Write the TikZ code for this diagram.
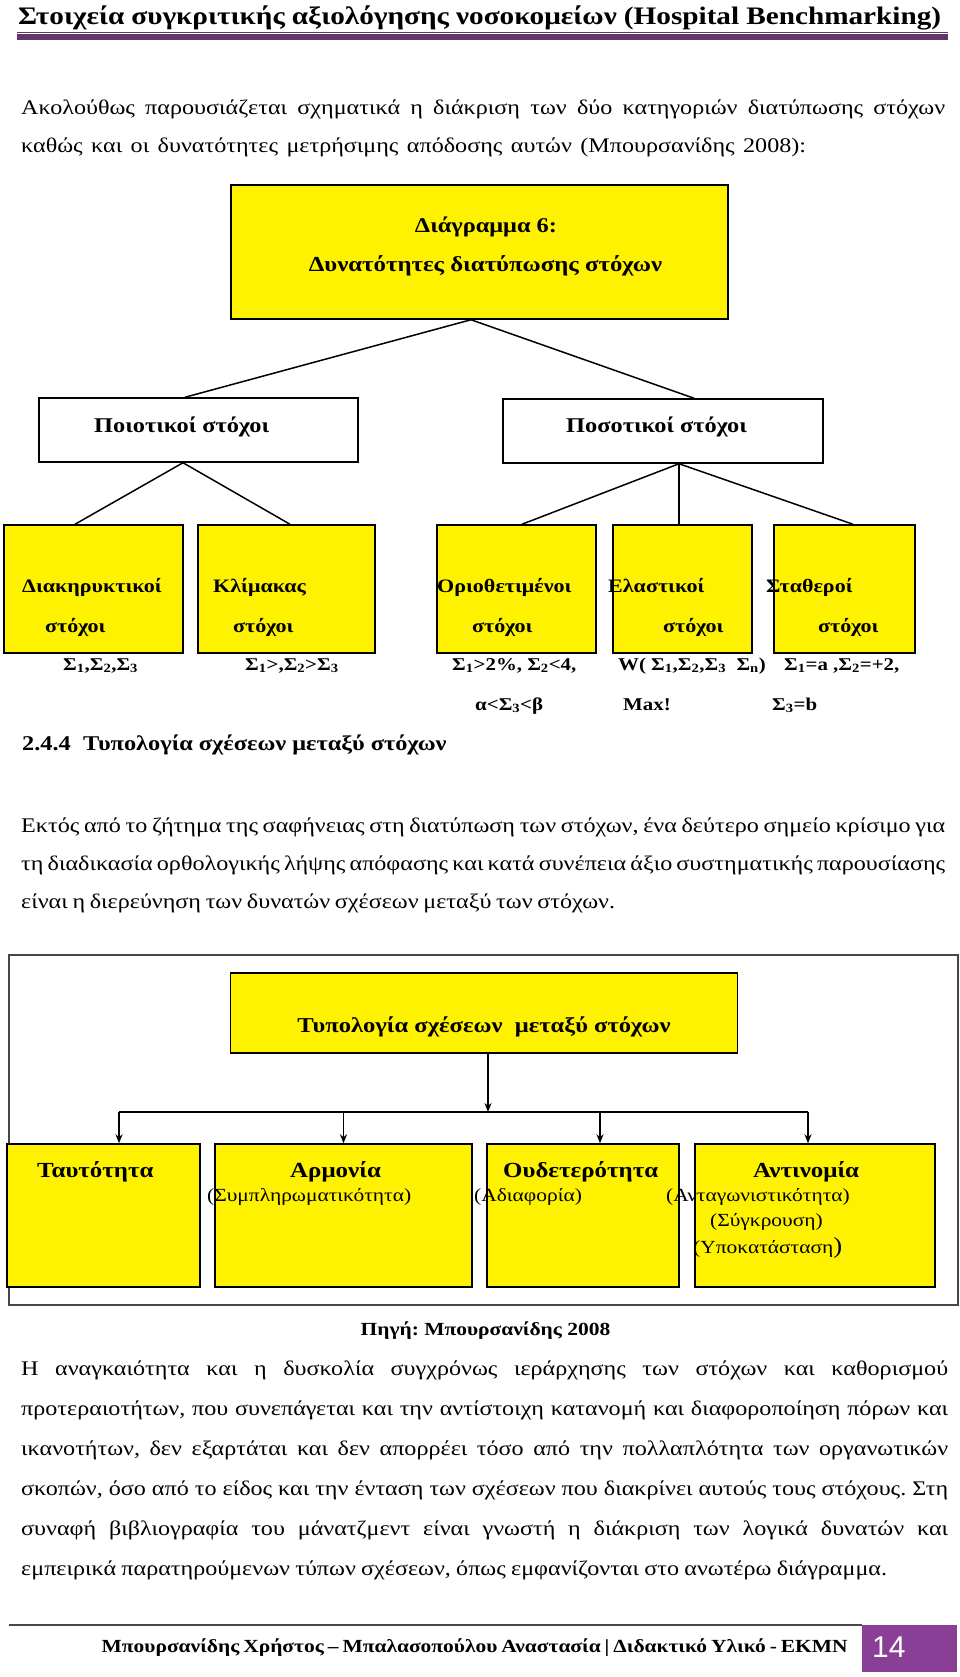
\documentclass[tikz,border=0pt]{standalone}
\usepackage{fontspec}
\setmainfont{Liberation Serif}[FakeStretch=1.16]
\newfontfamily\numfont{Liberation Sans}
\usetikzlibrary{arrows.meta}
\definecolor{rulepurple}{RGB}{95,55,105}
\definecolor{pagepurple}{RGB}{137,63,150}
\definecolor{framegray}{RGB}{70,70,70}
\tikzset{yellow box/.style={draw, line width=1.5pt, fill=yellow, inner sep=0pt}, }
\tikzset{white box/.style={draw, line width=1.5pt, fill=white, inner sep=0pt}, }
\tikzset{body text/.style={anchor=base west, inner sep=0pt, font=\fontsize{20.8}{25}\selectfont}, }
\tikzset{box label/.style={anchor=base west, inner sep=0pt, font=\bfseries\fontsize{19}{23}\selectfont}, }
\tikzset{sigma label/.style={anchor=base west, inner sep=0pt, font=\bfseries\fontsize{18}{22}\selectfont}, }
\tikzset{big label/.style={anchor=base west, inner sep=0pt, font=\bfseries\fontsize{21.5}{26}\selectfont}, }
\tikzset{paren label/.style={anchor=base west, inner sep=0pt, font=\fontsize{18.5}{22}\selectfont}, }
\tikzset{branch/.style={line width=1.5pt}, }
\tikzset{arrow/.style={line width=1.5pt, -{Stealth[length=9pt,width=7pt]}}, }
\newcommand{\Sgm}[1]{Σ\textsubscript{#1}}

\begin{document}
\frenchspacing
\begin{tikzpicture}[x=1pt, y=-1pt]
	\useasboundingbox[fill=white] (0,0) rectangle (960,1677);
	% page head
	\node[anchor=base west, inner sep=0pt, font=\bfseries\fontsize{25.2}{30}\selectfont] (title) at (18,25)
		{\makebox[923pt][s]{Στοιχεία συγκριτικής αξιολόγησης νοσοκομείων (Hospital Benchmarking)}};
	\draw[rulepurple, line width=1pt] (17,32.5) -- (948,32.5);
	\draw[rulepurple, line width=6pt] (17,37.5) -- (948,37.5);
	\node[body text] (intro1) at (21,115) {\makebox[924pt][s]{Ακολούθως παρουσιάζεται σχηματικά η διάκριση των δύο κατηγοριών διατύπωσης στόχων}};
	\node[body text] (intro2) at (21,153) {\makebox[785pt][s]{καθώς και οι δυνατότητες μετρήσιμης απόδοσης αυτών (Μπουρσανίδης 2008):}};

	% diagram 6
	\node[yellow box, minimum width=497pt, minimum height=134pt] (top) at (479.5,252) {};
	\node[anchor=base, inner sep=0pt, font=\bfseries\fontsize{21}{25}\selectfont] at (486,233) {Διάγραμμα 6:};
	\node[anchor=base, inner sep=0pt, font=\bfseries\fontsize{21.4}{25}\selectfont] at (485.5,272) {Δυνατότητες διατύπωσης στόχων};
	\node[white box, minimum width=319pt, minimum height=64pt] (qual) at (198.5,430) {};
	\node[white box, minimum width=320pt, minimum height=64pt] (quant) at (663,431) {};
	\node[box label, font=\bfseries\fontsize{21}{25}\selectfont] at (94,432) {Ποιοτικοί στόχοι};
	\node[box label, font=\bfseries\fontsize{21}{25}\selectfont] at (566,432) {Ποσοτικοί στόχοι};
	\node[yellow box, minimum width=179pt, minimum height=128pt] (decl) at (93.5,589) {};
	\node[yellow box, minimum width=177pt, minimum height=128pt] (scale) at (286.5,589) {};
	\node[yellow box, minimum width=159pt, minimum height=128pt] (bound) at (516.5,589) {};
	\node[yellow box, minimum width=139pt, minimum height=128pt] (elast) at (682.5,589) {};
	\node[yellow box, minimum width=141pt, minimum height=128pt] (fixed) at (844.5,589) {};
	\path[draw,branch]
		([xshift=-8.5pt]top.south) edge ([xshift=-13.5pt]qual.north)
		([xshift=-8.5pt]top.south) edge ([xshift=31pt]quant.north)
		([xshift=-15.5pt]qual.south) edge ([xshift=-18.5pt]decl.north)
		([xshift=-15.5pt]qual.south) edge ([xshift=3.5pt]scale.north)
		([xshift=16pt]quant.south) edge ([xshift=5.5pt]bound.north)
		([xshift=16pt]quant.south) edge ([xshift=-3.5pt]elast.north)
		([xshift=16pt]quant.south) edge ([xshift=8.5pt]fixed.north)
		;
	\node[box label] at (22,592) {Διακηρυκτικοί};
	\node[box label] at (45,632) {στόχοι};
	\node[box label] at (213,592) {Κλίμακας};
	\node[box label] at (233,632) {στόχοι};
	\node[box label] at (437,592) {Οριοθετιμένοι};
	\node[box label] at (472,632) {στόχοι};
	\node[box label] at (608,592) {Ελαστικοί};
	\node[box label] at (663,632) {στόχοι};
	\node[box label] at (766,592) {Σταθεροί};
	\node[box label] at (818,632) {στόχοι};
	\node[sigma label] at (63,670) {\Sgm{1},\Sgm{2},\Sgm{3}};
	\node[sigma label] at (245,670) {\Sgm{1}>,\Sgm{2}>\Sgm{3}};
	\node[sigma label] at (452,670) {\Sgm{1}>2\%, \Sgm{2}<4,};
	\node[sigma label] at (618,670) {W( \Sgm{1},\Sgm{2},\Sgm{3}~~\Sgm{n})};
	\node[sigma label] at (784,670) {\Sgm{1}=a ,\Sgm{2}=+2,};
	\node[sigma label] at (475,710) {α<\Sgm{3}<β};
	\node[sigma label] at (623,710) {Max!};
	\node[sigma label] at (772,710) {\Sgm{3}=b};

	% section 2.4.4
	\node[anchor=base west, inner sep=0pt, font=\bfseries\fontsize{21}{25}\selectfont] (head) at (22,750) {2.4.4~~Τυπολογία σχέσεων μεταξύ στόχων};
	\node[body text] (text1) at (21,832) {\makebox[924pt][s]{Εκτός από το ζήτημα της σαφήνειας στη διατύπωση των στόχων, ένα δεύτερο σημείο κρίσιμο για}};
	\node[body text] (text2) at (21,870) {\makebox[924pt][s]{τη διαδικασία ορθολογικής λήψης απόφασης και κατά συνέπεια άξιο συστηματικής παρουσίασης}};
	\node[body text] (text3) at (21,908) {\makebox[594pt][s]{είναι η διερεύνηση των δυνατών σχέσεων μεταξύ των στόχων.}};

	% typology diagram
	\node[draw=framegray, line width=1.2pt, minimum width=949pt, minimum height=350pt, inner sep=0pt] (frame) at (483.5,1130) {};
	\node[yellow box, minimum width=507pt, minimum height=80pt] (typ) at (484,1013) {};
	\node[anchor=base, inner sep=0pt, font=\bfseries\fontsize{21.2}{25}\selectfont] at (484,1032) {Τυπολογία σχέσεων~~μεταξύ στόχων};
	\node[yellow box, minimum width=193pt, minimum height=143pt] (ident) at (103.5,1215.5) {};
	\node[yellow box, minimum width=257pt, minimum height=143pt] (harm) at (343.5,1215.5) {};
	\node[yellow box, minimum width=192pt, minimum height=143pt] (neut) at (583,1215.5) {};
	\node[yellow box, minimum width=240pt, minimum height=143pt] (anti) at (815,1215.5) {};
	\coordinate (hub) at (488,1112);
	\coordinate (busL) at (119,1112);
	\coordinate (busR) at (808,1112);
	\draw[arrow] (typ.south -| hub) -- (hub);
	\draw[line width=2pt] (busL) -- (busR);
	\draw[arrow] (busL) -- (busL |- ident.north);
	\draw[arrow] (harm.north |- busL) -- (harm.north);
	\draw[arrow] ([xshift=17pt]neut.north |- busL) -- ([xshift=17pt]neut.north);
	\draw[arrow] (busR) -- (busR |- anti.north);
	\node[big label] at (37,1177) {Ταυτότητα};
	\node[big label] at (290,1177) {Αρμονία};
	\node[big label] at (503,1177) {Ουδετερότητα};
	\node[big label] at (753,1177) {Αντινομία};
	\node[paren label] at (207,1201) {(Συμπληρωματικότητα)};
	\node[paren label] at (474,1201) {(Αδιαφορία)};
	\node[paren label] at (666,1201) {(Ανταγωνιστικότητα)};
	\node[paren label] at (710,1226) {(Σύγκρουση)};
	\node[paren label] at (693,1253) {(Υποκατάσταση{\fontsize{23}{23}\selectfont)}};

	% source and closing text
	\node[anchor=base, inner sep=0pt, font=\bfseries\fontsize{18.5}{23}\selectfont] (source) at (485.5,1335) {Πηγή: Μπουρσανίδης 2008};
	\node[body text] (close1) at (21,1375) {\makebox[927pt][s]{Η αναγκαιότητα και η δυσκολία συγχρόνως ιεράρχησης των στόχων και καθορισμού}};
	\node[body text] (close2) at (21,1415) {\makebox[927pt][s]{προτεραιοτήτων, που συνεπάγεται και την αντίστοιχη κατανομή και διαφοροποίηση πόρων και}};
	\node[body text] (close3) at (21,1455) {\makebox[927pt][s]{ικανοτήτων, δεν εξαρτάται και δεν απορρέει τόσο από την πολλαπλότητα των οργανωτικών}};
	\node[body text] (close4) at (21,1495) {\makebox[927pt][s]{σκοπών, όσο από το είδος και την ένταση των σχέσεων που διακρίνει αυτούς τους στόχους. Στη}};
	\node[body text] (close5) at (21,1535) {\makebox[927pt][s]{συναφή βιβλιογραφία του μάνατζμεντ είναι γνωστή η διάκριση των λογικά δυνατών και}};
	\node[body text] (close6) at (21,1575) {\makebox[866pt][s]{εμπειρικά παρατηρούμενων τύπων σχέσεων, όπως εμφανίζονται στο ανωτέρω διάγραμμα.}};

	% page foot
	\draw[framegray, line width=1.5pt] (9,1625) -- (862,1625);
	\node[anchor=base west, inner sep=0pt, font=\bfseries\fontsize{18.5}{23}\selectfont] (foot) at (101.5,1652)
		{\makebox[746pt][s]{Μπουρσανίδης Χρήστος – Μπαλασοπούλου Αναστασία | Διδακτικό Υλικό - ΕΚΜΝ}};
	\node[fill=pagepurple, minimum width=95pt, minimum height=47pt, inner sep=0pt] (page) at (909.5,1648.5) {};
	\node[anchor=base west, inner sep=0pt, text=white, font=\numfont\fontsize{30}{30}\selectfont] at (872,1657) {14};
\end{tikzpicture}
\end{document}
